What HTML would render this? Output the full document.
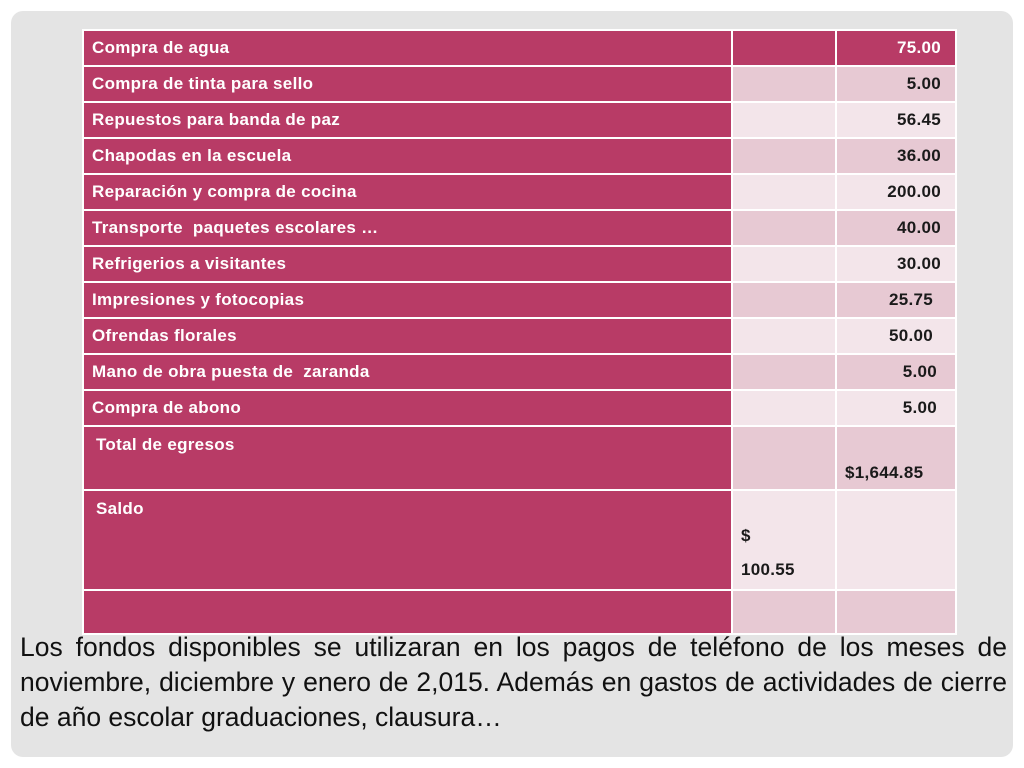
<!DOCTYPE html>
<html><head><meta charset="utf-8"><style>
body{margin:0;width:1024px;height:768px;background:#fff;position:relative;overflow:hidden;font-family:"Liberation Sans",sans-serif}
#panel{position:absolute;left:11px;top:11px;width:1002px;height:746px;background:#e4e4e4;border-radius:12px}
table{position:absolute;left:82px;top:29px;border-collapse:collapse;width:875px;table-layout:fixed}
tr{height:36px}
td{border:2px solid #fff;padding:0 8px;font-weight:bold;font-size:17px;letter-spacing:0.3px;color:#1a1a1a;box-sizing:border-box}
td.l{background:#b83b66;color:#fff;width:649px}
td.c{width:104px}
td.v{text-align:right;padding-right:14px}
tr.h td{background:#b83b66;color:#fff}
tr.d td.c,tr.d td.v{background:#e7c9d3}
tr.w td.c,tr.w td.v{background:#f3e5ea}
#note{position:absolute;left:20px;top:630px;width:987px;font-size:26.5px;line-height:35px;text-align:justify;color:#111}
</style></head><body>
<div id="panel"></div>
<table>
<tr class="h"><td class="l">Compra de agua</td><td class="c"></td><td class="v">75.00</td></tr>
<tr class="d"><td class="l">Compra de tinta para sello</td><td class="c"></td><td class="v">5.00</td></tr>
<tr class="w"><td class="l">Repuestos para banda de paz</td><td class="c"></td><td class="v">56.45</td></tr>
<tr class="d"><td class="l">Chapodas en la escuela</td><td class="c"></td><td class="v">36.00</td></tr>
<tr class="w"><td class="l">Reparación y compra de cocina</td><td class="c"></td><td class="v">200.00</td></tr>
<tr class="d"><td class="l">Transporte &nbsp;paquetes escolares …</td><td class="c"></td><td class="v">40.00</td></tr>
<tr class="w"><td class="l">Refrigerios a visitantes</td><td class="c"></td><td class="v">30.00</td></tr>
<tr class="d"><td class="l">Impresiones y fotocopias</td><td class="c"></td><td class="v" style="padding-right:22px">25.75</td></tr>
<tr class="w"><td class="l">Ofrendas florales</td><td class="c"></td><td class="v" style="padding-right:22px">50.00</td></tr>
<tr class="d"><td class="l">Mano de obra puesta de &nbsp;zaranda</td><td class="c"></td><td class="v" style="padding-right:18px">5.00</td></tr>
<tr class="w"><td class="l">Compra de abono</td><td class="c"></td><td class="v" style="padding-right:18px">5.00</td></tr>
<tr class="d" style="height:64px"><td class="l" style="vertical-align:top;padding-top:8px;padding-left:12px">Total de egresos</td><td class="c"></td><td class="v" style="vertical-align:bottom;text-align:left;padding-bottom:6px">$1,644.85</td></tr>
<tr class="w" style="height:100px"><td class="l" style="vertical-align:top;padding-top:8px;padding-left:12px">Saldo</td><td class="c" style="vertical-align:bottom;line-height:34px;padding-bottom:2px">$<br>100.55</td><td class="v"></td></tr>
<tr class="d" style="height:44px"><td class="l"></td><td class="c"></td><td class="v"></td></tr>
</table>
<div id="note">Los fondos disponibles se utilizaran en los pagos de teléfono de los meses de noviembre, diciembre y enero de 2,015. Además en gastos de actividades de cierre de año escolar graduaciones, clausura…</div>
</body></html>
